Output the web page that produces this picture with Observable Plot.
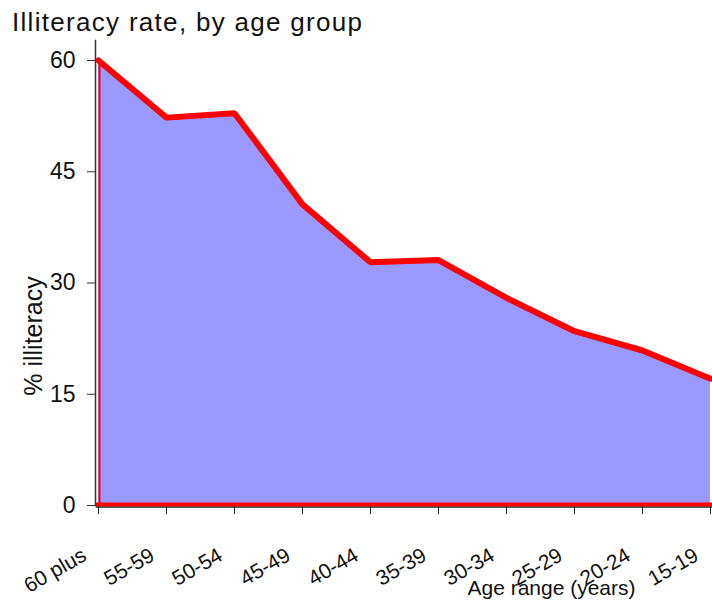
<!DOCTYPE html>
<html>
<head>
<meta charset="utf-8">
<script src="https://cdn.jsdelivr.net/npm/d3@7"></script>
<script src="https://cdn.jsdelivr.net/npm/@observablehq/plot@0.6"></script>
<style>
  html, body { margin: 0; padding: 0; background: #fff; }
  #wrap { position: relative; width: 712px; height: 603px; overflow: hidden; }
  #title {
    position: absolute; left: 12px; top: 7px;
    font: 26px/30px "Liberation Sans", Arial, sans-serif;
    letter-spacing: 1.3px; color: #111; white-space: nowrap;
  }
</style>
</head>
<body>
<div id="wrap">
  <div id="title">Illiteracy rate, by age group</div>
</div>
<script>
// Age groups, oldest first
const ages = ["60 plus", "55-59", "50-54", "45-49", "40-44", "35-39", "30-34", "25-29", "20-24", "15-19"];
// Share of each group that cannot read (%)
const rates = [60, 52.3, 52.9, 40.6, 32.8, 33.1, 28.0, 23.5, 20.9, 17.1];
const yTicks = [0, 15, 30, 45, 60];

const data = ages.map((age, i) => ({age, rate: rates[i]}));
const font = "'Liberation Sans', Arial, sans-serif";

const chart = Plot.plot({
  width: 712,
  height: 603,
  marginLeft: 96,
  marginRight: 0,
  marginTop: 40,
  marginBottom: 98,
  style: {fontFamily: font, background: "transparent", overflow: "visible"},
  x: {type: "point", domain: ages, padding: 0},
  y: {domain: [0, 62.7]},
  marks: [
    Plot.areaY(data, {x: "age", y: "rate", fill: "#9999ff"}),
    // axis lines
    Plot.frame({anchor: "left", stroke: "#333", strokeWidth: 1.5, dx: -1}),
    Plot.frame({anchor: "bottom", stroke: "#222", strokeWidth: 1.5, dy: 1.5}),
    // red outline on the left edge and along zero
    Plot.ruleX([ages[0]], {y1: 0, y2: rates[0], stroke: "red", strokeWidth: 2, dx: 1}),
    Plot.ruleY([0], {stroke: "red", strokeWidth: 4, dy: -1}),
    Plot.lineY(data, {x: "age", y: "rate", stroke: "red", strokeWidth: 6, strokeLinejoin: "miter"}),
    Plot.axisY(yTicks, {
      tickSize: 9, tickPadding: 12, fontSize: 23, stroke: "#333", fill: "#111", label: null
    }),
    Plot.axisX({ticks: ages, tickSize: 8, tickFormat: () => "", stroke: "#222", label: null, dy: 1}),
    // slanted category labels
    Plot.text(ages, {
      x: d => d, y: 0, text: d => d, rotate: -30, textAnchor: "end",
      dx: -14, dy: 48, fontSize: 21, fill: "#111"
    }),
    Plot.text(["Age range (years)"], {
      frameAnchor: "bottom", dx: 147, dy: 89, fontSize: 21, fill: "#111", textAnchor: "middle"
    }),
    Plot.text(["% illiteracy"], {
      frameAnchor: "left", rotate: -90, dx: -63, dy: 63, fontSize: 25, fill: "#111", textAnchor: "middle"
    })
  ]
});

document.getElementById("wrap").prepend(chart);
</script>
</body>
</html>
